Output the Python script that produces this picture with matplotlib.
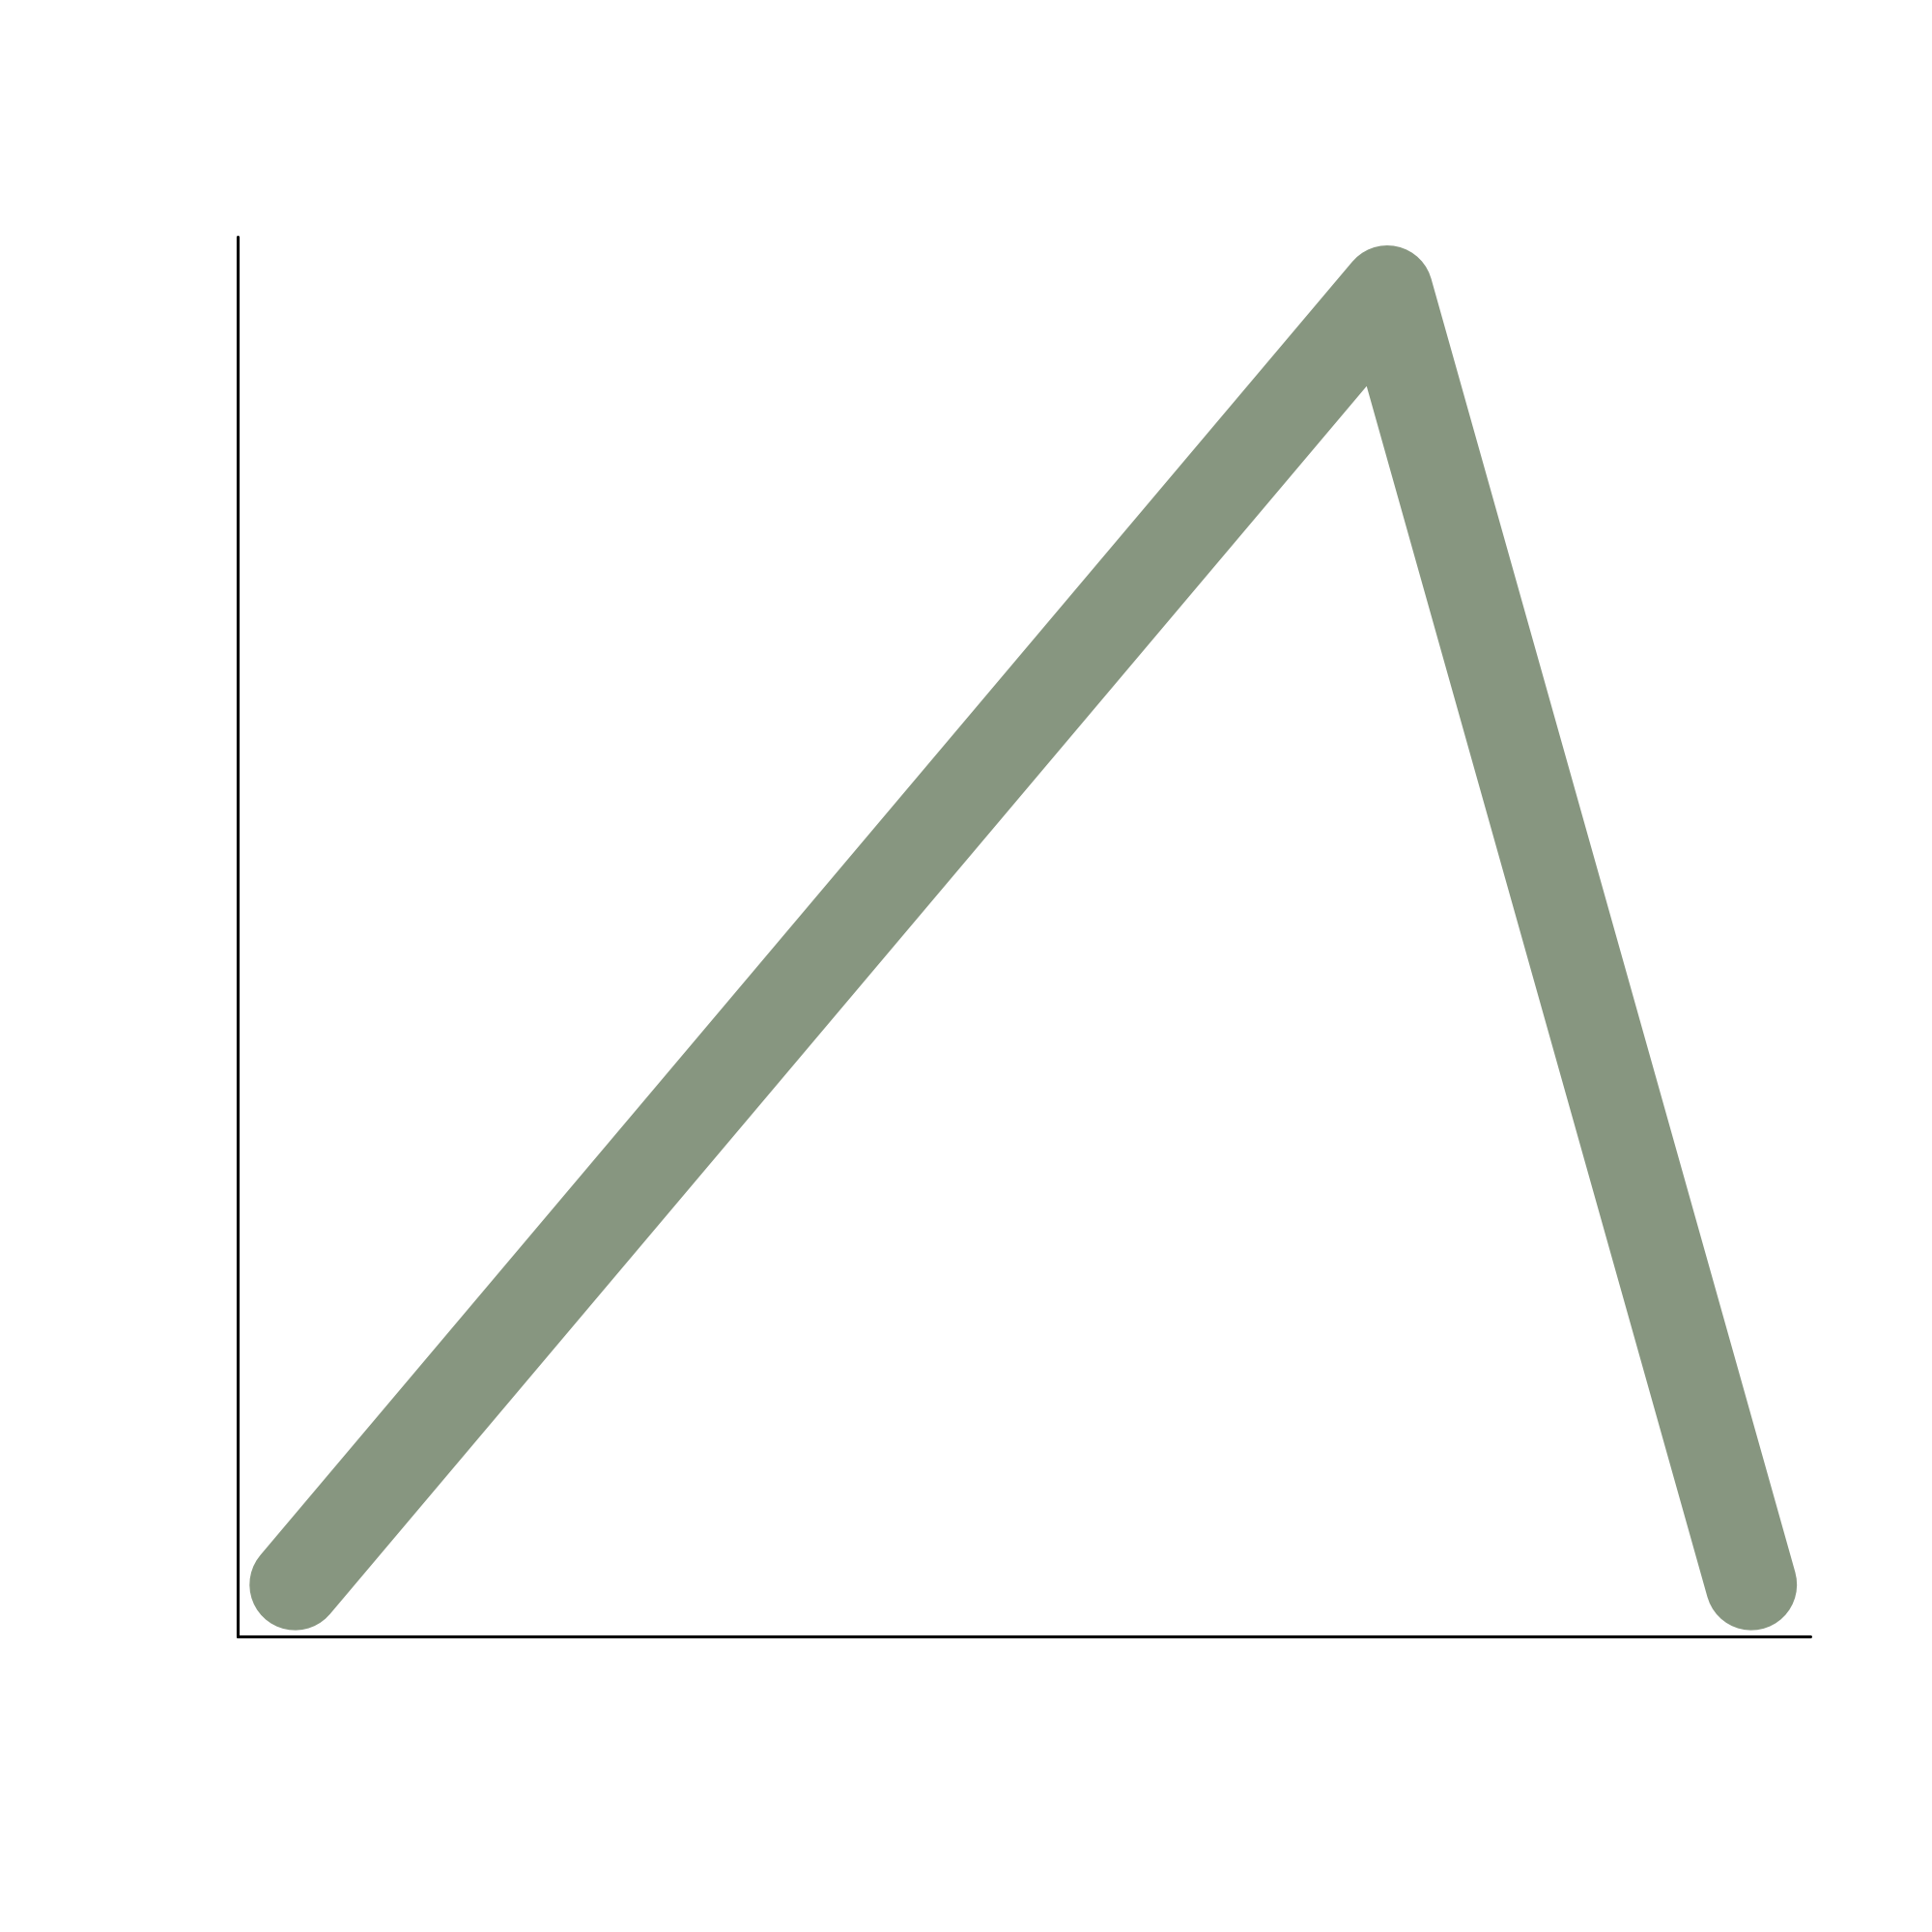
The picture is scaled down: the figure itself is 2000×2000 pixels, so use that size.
import matplotlib.pyplot as plt

# Data points
x = [0, 3, 4]
y = [0, 1, 0]

fig = plt.figure(figsize=(10, 10), dpi=200)
ax = fig.add_axes([0.1228, 0.153, 0.8142, 0.7245])

ax.plot(x, y, color='#879680', linewidth=34, solid_capstyle='round', solid_joinstyle='round')

ax.set_xlim(-0.159, 4.162)
ax.set_ylim(-0.040, 1.042)

ax.spines['top'].set_visible(False)
ax.spines['right'].set_visible(False)
for s in ['left', 'bottom']:
    ax.spines[s].set_linewidth(1.1)
    ax.spines[s].set_capstyle('round')
ax.set_xticks([])
ax.set_yticks([])

fig.savefig('out.png', dpi=200, facecolor='white')
